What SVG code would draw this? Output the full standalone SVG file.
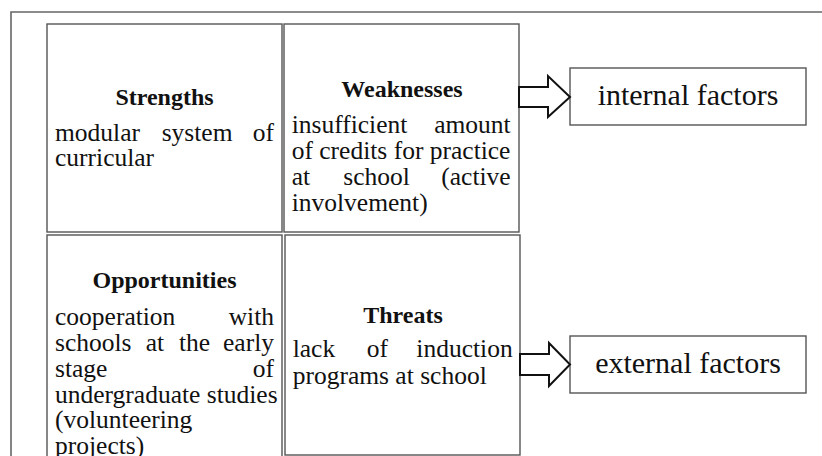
<svg xmlns="http://www.w3.org/2000/svg" width="822" height="456" viewBox="0 0 822 456">
<defs>
<style>
.frame{fill:none;stroke:#666;stroke-width:1.6}
.cell{fill:#fff;stroke:#555;stroke-width:1.4}
.box{fill:#fff;stroke:#555;stroke-width:1.4}
.arrow{fill:#fff;stroke:#111;stroke-width:2;stroke-linejoin:miter}
text{font-family:"Liberation Serif","Times New Roman",serif;fill:#111}
.h{font-size:24px;font-weight:bold;text-anchor:middle}
.b{font-size:25.5px}
.e{text-anchor:end}
.f{font-size:30px;text-anchor:middle}
</style>
</defs>
<rect width="822" height="456" fill="#fff"/>
<g id="frame">
<path class="frame" d="M11,456 V12 H822"/>
</g>
<g id="strengths">
<rect class="cell" x="47" y="24" width="235" height="208"/>
<text class="h" x="164.5" y="105">Strengths</text>
<text class="b" y="140.7"><tspan x="55">modular</tspan><tspan x="161.7">system</tspan></text>
<text class="b e" x="274" y="140.7">of</text>
<text class="b" x="55" y="166">curricular</text>
</g>
<g id="weaknesses">
<rect class="cell" x="284" y="24" width="235" height="208"/>
<text class="h" x="402" y="96.7">Weaknesses</text>
<text class="b" x="291.7" y="132.7">insufficient</text>
<text class="b e" x="510.7" y="132.7">amount</text>
<text class="b" x="291.7" y="158.7">of credits for practice</text>
<text class="b" y="185"><tspan x="291.7">at</tspan><tspan x="343.3">school</tspan></text>
<text class="b e" x="510.7" y="185">(active</text>
<text class="b" x="291.7" y="211">involvement)</text>
</g>
<g id="opportunities">
<rect class="cell" x="47" y="235" width="235" height="230"/>
<text class="h" x="164.5" y="288.3">Opportunities</text>
<text class="b" x="55" y="325">cooperation</text>
<text class="b e" x="274" y="325">with</text>
<text class="b" y="350.7"><tspan x="55">schools</tspan><tspan x="145.7">at</tspan><tspan x="179">the</tspan></text>
<text class="b e" x="274" y="350.7">early</text>
<text class="b" x="55" y="376.7">stage</text>
<text class="b e" x="274" y="376.7">of</text>
<text class="b" x="55" y="402.7">undergraduate studies</text>
<text class="b" x="55" y="428">(volunteering</text>
<text class="b" x="55" y="453.5">projects)</text>
</g>
<g id="threats">
<rect class="cell" x="285" y="235" width="235" height="220"/>
<text class="h" x="403" y="322.7">Threats</text>
<text class="b" y="357.3"><tspan x="292.7">lack</tspan><tspan x="366.7">of</tspan></text>
<text class="b e" x="512.7" y="357.3">induction</text>
<text class="b" x="292.7" y="384">programs at school</text>
</g>
<g id="internal">
<rect class="box" x="570" y="68" width="236" height="57"/>
<text class="f" x="688" y="105">internal factors</text>
</g>
<g id="external">
<rect class="box" x="570" y="336" width="236" height="57"/>
<text class="f" x="688" y="373">external factors</text>
</g>
<g id="connectors">
<polygon class="arrow" points="519,87 548,87 548,76 570,97 548,117 548,107 519,107"/>
<polygon class="arrow" points="520,354 549,354 549,343 570,364.5 549,386 549,375 520,375"/>
</g>
</svg>
